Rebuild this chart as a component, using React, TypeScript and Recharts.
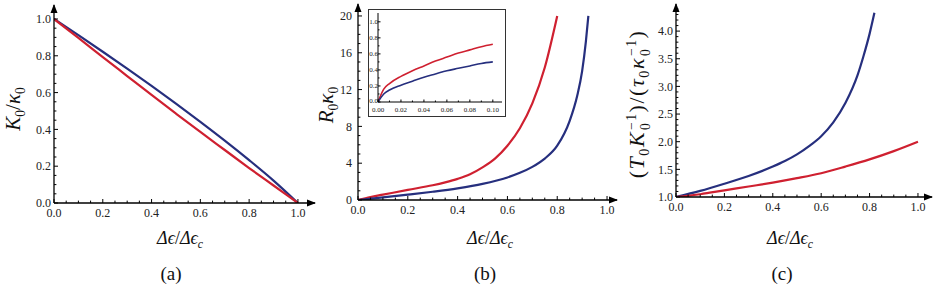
import React from 'react';
import { Line, LineChart, ReferenceDot, XAxis, YAxis } from 'recharts';

// panel (a): K0/kappa0 vs strain
const aX = [0, 0.1, 0.2, 0.3, 0.4, 0.5, 0.6, 0.7, 0.8, 0.9, 1.0];
const aBlue = [1.0, 0.912, 0.822, 0.73, 0.636, 0.54, 0.441, 0.339, 0.233, 0.122, 0.0];
const aRed = [1.0, 0.897, 0.793, 0.69, 0.587, 0.486, 0.386, 0.288, 0.19, 0.095, 0.0];

// panel (b): R0 kappa0
const bRedX = [0, 0.05, 0.1, 0.2, 0.3, 0.35, 0.4, 0.45, 0.5, 0.55, 0.6, 0.65, 0.7, 0.75, 0.8];
const bRed = [0, 0.32, 0.58, 1.1, 1.6, 1.92, 2.3, 2.8, 3.55, 4.5, 5.9, 7.8, 10.5, 14.4, 20.0];
const bBlueX = [0, 0.1, 0.2, 0.3, 0.4, 0.5, 0.6, 0.65, 0.7, 0.75, 0.8, 0.85, 0.88, 0.9, 0.915, 0.925];
const bBlue = [0, 0.28, 0.58, 0.9, 1.27, 1.75, 2.45, 2.95, 3.6, 4.5, 5.9, 8.6, 11.3, 14.0, 17.2, 20.0];

// inset of (b): small strain
const insetX = [0, 0.005, 0.01, 0.02, 0.03, 0.04, 0.05, 0.06, 0.07, 0.08, 0.09, 0.1];
const insetRed = [0, 0.16, 0.23, 0.32, 0.39, 0.45, 0.51, 0.56, 0.61, 0.65, 0.69, 0.72];
const insetBlue = [0, 0.1, 0.15, 0.21, 0.26, 0.31, 0.35, 0.39, 0.42, 0.45, 0.48, 0.5];

// panel (c)
const cBlueX = [0, 0.1, 0.2, 0.3, 0.4, 0.45, 0.5, 0.55, 0.6, 0.65, 0.7, 0.75, 0.775, 0.8, 0.82];
const cBlue = [1.0, 1.11, 1.24, 1.38, 1.55, 1.65, 1.77, 1.92, 2.1, 2.35, 2.7, 3.2, 3.55, 3.95, 4.33];
const cRedX = [0, 0.1, 0.2, 0.3, 0.4, 0.5, 0.6, 0.7, 0.8, 0.9, 1.0];
const cRed = [1.0, 1.05, 1.12, 1.19, 1.26, 1.34, 1.43, 1.55, 1.68, 1.83, 2.0];

// ticks
const unitTicks = [0, 0.05, 0.1, 0.15, 0.2, 0.25, 0.3, 0.35, 0.4, 0.45, 0.5, 0.55, 0.6, 0.65, 0.7, 0.75, 0.8, 0.85, 0.9, 0.95, 1.0];
const unitMajor = [0, 0.2, 0.4, 0.6, 0.8, 1.0];
const bYTicks = [0, 1, 2, 3, 4, 5, 6, 7, 8, 9, 10, 11, 12, 13, 14, 15, 16, 17, 18, 19, 20];
const bYMajor = [0, 4, 8, 12, 16, 20];
const cYTicks = [1.0, 1.1, 1.2, 1.3, 1.4, 1.5, 1.6, 1.7, 1.8, 1.9, 2.0, 2.1, 2.2, 2.3, 2.4, 2.5, 2.6, 2.7, 2.8, 2.9, 3.0, 3.1, 3.2, 3.3, 3.4, 3.5, 3.6, 3.7, 3.8, 3.9, 4.0, 4.1, 4.2, 4.3, 4.4];
const cYMajor = [1.0, 1.5, 2.0, 2.5, 3.0, 3.5, 4.0];
const insetXTicks = [0, 0.01, 0.02, 0.03, 0.04, 0.05, 0.06, 0.07, 0.08, 0.09, 0.1];
const insetXMajor = [0, 0.02, 0.04, 0.06, 0.08, 0.1];
const insetYTicks = [0, 0.1, 0.2, 0.3, 0.4, 0.5, 0.6, 0.7, 0.8, 0.9, 1.0];
const insetYMajor = [0, 0.2, 0.4, 0.6, 0.8, 1.0];

const BLUE = '#262f7e';
const RED = '#cf2030';
const FONT = "'Liberation Serif', 'DejaVu Serif', serif";

const pts = (xs: number[], ys: number[]) => xs.map((x, i) => ({ x, y: ys[i] }));
const isMajor = (v: number, majors: number[]) => majors.some((m) => Math.abs(m - v) < 1e-9);

function XTick(props: any) {
  const { x, y, payload, majors, fmt, len, fs, dy } = props;
  const major = isMajor(payload.value, majors);
  return (
    <g>
      <line x1={x} x2={x} y1={y} y2={y - (major ? len : len * 0.6)} stroke="#000" strokeWidth={1} />
      {major && (
        <text x={x} y={y + dy} textAnchor="middle" fontSize={fs} style={{ fontFamily: FONT }} fill="#222">
          {fmt(payload.value)}
        </text>
      )}
    </g>
  );
}

function YTick(props: any) {
  const { x, y, payload, majors, fmt, len, fs, dx, lift = 0 } = props;
  const major = isMajor(payload.value, majors);
  return (
    <g>
      <line x1={x} x2={x + (major ? len : len * 0.6)} y1={y} y2={y} stroke="#000" strokeWidth={1} />
      {major && (
        <text x={x - dx} y={y - (payload.value === 0 ? lift : 0)} dy="0.35em" textAnchor="end" fontSize={fs} style={{ fontFamily: FONT }} fill="#222">
          {fmt(payload.value)}
        </text>
      )}
    </g>
  );
}

// arrow heads at the ends of the axes
const RightArrow = (p: any) => <path d={`M${p.cx + 1},${p.cy} L${p.cx - 8},${p.cy - 3.5} L${p.cx - 8},${p.cy + 3.5} Z`} fill="#000" />;
const UpArrow = (p: any) => <path d={`M${p.cx},${p.cy - 1} L${p.cx - 3.5},${p.cy + 8} L${p.cx + 3.5},${p.cy + 8} Z`} fill="#000" />;

const axisLine = { stroke: '#000', strokeWidth: 1.3 };

const f1 = (v: number) => v.toFixed(1);
const f0 = (v: number) => v.toFixed(0);
const f2 = (v: number) => v.toFixed(2);

function Caption({ left, top, rotate, size, spacing, children }: any) {
  return (
    <div
      style={{
        position: 'absolute',
        left,
        top,
        transform: `translate(-50%, -50%)${rotate ? ' rotate(-90deg)' : ''}`,
        fontFamily: FONT,
        fontSize: size,
        letterSpacing: spacing,
        color: '#111',
        whiteSpace: 'nowrap',
        lineHeight: 1,
      }}
    >
      {children}
    </div>
  );
}

const sub = { fontSize: '0.65em' };
const stack = {
  display: 'inline-flex',
  flexDirection: 'column' as const,
  fontSize: '0.62em',
  verticalAlign: 'middle',
  lineHeight: 1.05,
  marginLeft: 1,
};

const XLabel = () => (
  <span>
    <i>Δϵ</i>/<i>Δϵ</i>
    <sub style={sub}><i>c</i></sub>
  </span>
);

export default function App() {
  return (
    <div style={{ position: 'absolute', left: 0, top: 0, width: 934, height: 285, background: '#fff' }}>
      {/* (a) */}
      <div style={{ position: 'absolute', left: 0, top: 0 }}>
        <LineChart width={330} height={230} margin={{ top: 5, right: 15, bottom: 0, left: 0 }}>
          <XAxis
            type="number"
            dataKey="x"
            domain={[0, 1.07]}
            allowDataOverflow
            ticks={unitTicks}
            interval={0}
            height={27}
            tickSize={0}
            tickMargin={0}
            tickLine={false}
            axisLine={axisLine}
            tick={(p: any) => <XTick {...p} majors={unitMajor} fmt={f1} len={4} fs={12} dy={14} />}
          />
          <YAxis
            type="number"
            dataKey="y"
            domain={[0, 1.076]}
            allowDataOverflow
            ticks={unitTicks}
            interval={0}
            width={54}
            tickSize={0}
            tickMargin={0}
            tickLine={false}
            axisLine={axisLine}
            tick={(p: any) => <YTick {...p} majors={unitMajor} fmt={f1} len={4} fs={12} dx={3} />}
          />
          <Line data={pts(aX, aBlue)} dataKey="y" type="monotone" stroke={BLUE} strokeWidth={2.2} dot={false} isAnimationActive={false} />
          <Line data={pts(aX, aRed)} dataKey="y" type="monotone" stroke={RED} strokeWidth={2.2} dot={false} isAnimationActive={false} />
          <ReferenceDot x={1.07} y={0} ifOverflow="visible" shape={RightArrow} />
          <ReferenceDot x={0} y={1.076} ifOverflow="visible" shape={UpArrow} />
        </LineChart>
      </div>

      {/* (b) */}
      <div style={{ position: 'absolute', left: 304, top: 0 }}>
        <LineChart width={323} height={227} margin={{ top: 4, right: 10, bottom: 0, left: 0 }}>
          <XAxis
            type="number"
            dataKey="x"
            domain={[0, 1.04]}
            allowDataOverflow
            ticks={unitTicks}
            interval={0}
            height={27}
            tickSize={0}
            tickMargin={0}
            tickLine={false}
            axisLine={axisLine}
            tick={(p: any) => <XTick {...p} majors={unitMajor} fmt={f1} len={4} fs={12} dy={14} />}
          />
          <YAxis
            type="number"
            dataKey="y"
            domain={[0, 21.3]}
            allowDataOverflow
            ticks={bYTicks}
            interval={0}
            width={54}
            tickSize={0}
            tickMargin={0}
            tickLine={false}
            axisLine={axisLine}
            tick={(p: any) => <YTick {...p} majors={bYMajor} fmt={f0} len={4} fs={12} dx={6} />}
          />
          <Line data={pts(bRedX, bRed)} dataKey="y" type="monotone" stroke={RED} strokeWidth={2.2} dot={false} isAnimationActive={false} />
          <Line data={pts(bBlueX, bBlue)} dataKey="y" type="monotone" stroke={BLUE} strokeWidth={2.2} dot={false} isAnimationActive={false} />
          <ReferenceDot x={1.04} y={0} ifOverflow="visible" shape={RightArrow} />
          <ReferenceDot x={0} y={21.3} ifOverflow="visible" shape={UpArrow} />
        </LineChart>
      </div>

      {/* inset of (b) */}
      <div
        style={{
          position: 'absolute',
          left: 368,
          top: 9,
          width: 138,
          height: 108,
          boxSizing: 'border-box',
          border: '1px solid #333',
          background: '#fff',
        }}
      >
        <LineChart width={136} height={106} margin={{ top: 3, right: 3, bottom: 0, left: 0 }} style={{ overflow: 'visible' }}>
          <XAxis
            type="number"
            dataKey="x"
            domain={[0, 0.108]}
            allowDataOverflow
            ticks={insetXTicks}
            interval={0}
            height={14}
            tickSize={0}
            tickMargin={0}
            tickLine={false}
            axisLine={{ stroke: '#000', strokeWidth: 1 }}
            tick={(p: any) => <XTick {...p} majors={insetXMajor} fmt={f2} len={2.5} fs={7} dy={9.5} />}
          />
          <YAxis
            type="number"
            dataKey="y"
            domain={[0, 1.11]}
            allowDataOverflow
            ticks={insetYTicks}
            interval={0}
            width={9}
            tickSize={0}
            tickMargin={0}
            tickLine={false}
            axisLine={{ stroke: '#000', strokeWidth: 1 }}
            tick={(p: any) => <YTick {...p} majors={insetYMajor} fmt={f1} len={2.5} fs={7} dx={0} lift={1.5} />}
          />
          <Line data={pts(insetX, insetRed)} dataKey="y" type="monotone" stroke={RED} strokeWidth={1.6} dot={false} isAnimationActive={false} />
          <Line data={pts(insetX, insetBlue)} dataKey="y" type="monotone" stroke={BLUE} strokeWidth={1.6} dot={false} isAnimationActive={false} />
        </LineChart>
      </div>

      {/* (c) */}
      <div style={{ position: 'absolute', left: 622, top: 0 }}>
        <LineChart width={312} height={224} margin={{ top: 4, right: 2, bottom: 0, left: 0 }}>
          <XAxis
            type="number"
            dataKey="x"
            domain={[0, 1.058]}
            allowDataOverflow
            ticks={unitTicks}
            interval={0}
            height={27}
            tickSize={0}
            tickMargin={0}
            tickLine={false}
            axisLine={axisLine}
            tick={(p: any) => <XTick {...p} majors={unitMajor} fmt={f1} len={4} fs={12} dy={14} />}
          />
          <YAxis
            type="number"
            dataKey="y"
            domain={[1, 4.49]}
            allowDataOverflow
            ticks={cYTicks}
            interval={0}
            width={54}
            tickSize={0}
            tickMargin={0}
            tickLine={false}
            axisLine={axisLine}
            tick={(p: any) => <YTick {...p} majors={cYMajor} fmt={f1} len={4} fs={12} dx={3} />}
          />
          <Line data={pts(cBlueX, cBlue)} dataKey="y" type="monotone" stroke={BLUE} strokeWidth={2.2} dot={false} isAnimationActive={false} />
          <Line data={pts(cRedX, cRed)} dataKey="y" type="monotone" stroke={RED} strokeWidth={2.2} dot={false} isAnimationActive={false} />
          <ReferenceDot x={1.058} y={1} ifOverflow="visible" shape={RightArrow} />
          <ReferenceDot x={0} y={4.49} ifOverflow="visible" shape={UpArrow} />
        </LineChart>
      </div>

      {/* axis titles */}
      <Caption left={15} top={109} rotate size={21}>
        <i>K</i>
        <sub style={sub}>0</sub>/<i>κ</i>
        <sub style={sub}>0</sub>
      </Caption>
      <Caption left={328} top={105} rotate size={21}>
        <i>R</i>
        <sub style={sub}>0</sub>
        <i>κ</i>
        <sub style={sub}>0</sub>
      </Caption>
      <Caption left={639} top={104} rotate size={22} spacing={1.5}>
        (<i>T</i>
        <sub style={sub}>0</sub>
        <i>K</i>
        <span style={stack}>
          <span>−1</span>
          <span>0</span>
        </span>
        )/(<i>τ</i>
        <sub style={sub}>0</sub>
        <i>κ</i>
        <span style={stack}>
          <span>−1</span>
          <span>0</span>
        </span>
        )
      </Caption>

      <Caption left={180} top={240} size={18}><XLabel /></Caption>
      <Caption left={490} top={240} size={18}><XLabel /></Caption>
      <Caption left={790} top={240} size={18}><XLabel /></Caption>

      <Caption left={171} top={273} size={19}>(a)</Caption>
      <Caption left={485} top={273} size={19}>(b)</Caption>
      <Caption left={782} top={273} size={19}>(c)</Caption>
    </div>
  );
}
